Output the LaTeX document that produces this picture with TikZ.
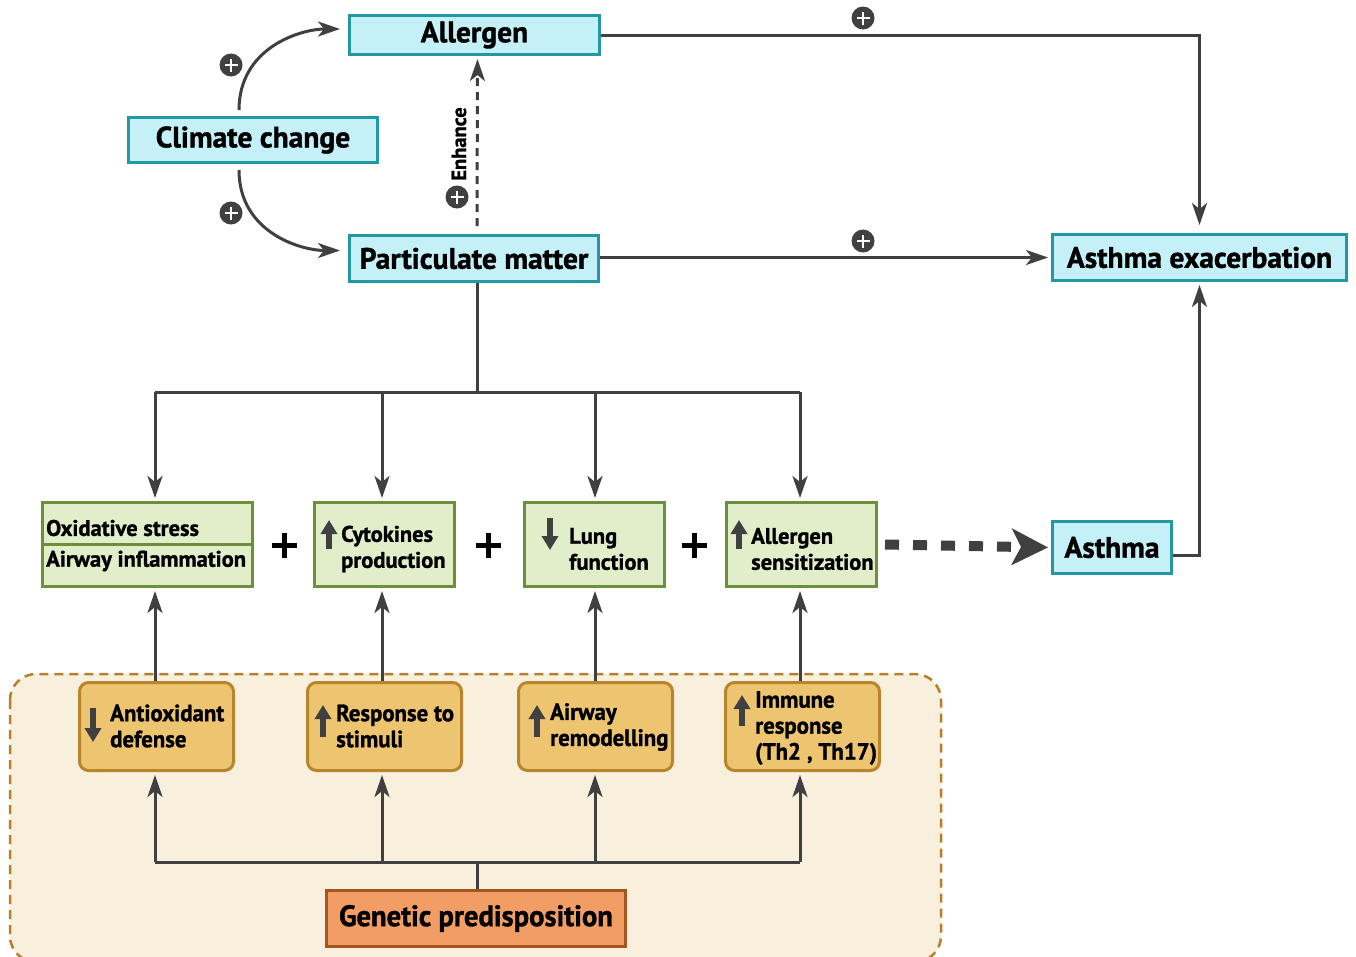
\documentclass[tikz,border=0pt]{standalone}
\usepackage{fontspec}
\setmainfont{PT Sans}[BoldFeatures={FakeBold=1.2}]
\newfontfamily\condfont{PT Sans}[FakeStretch=0.97,BoldFeatures={FakeBold=1.2}]
\usetikzlibrary{arrows.meta,calc}
\definecolor{ln}{HTML}{404040}
\definecolor{cyanf}{HTML}{C4F0F7}
\definecolor{cyand}{HTML}{2397A3}
\definecolor{greenf}{HTML}{E2EEC9}
\definecolor{greend}{HTML}{6B8F3B}
\definecolor{oranf}{HTML}{EDC470}
\definecolor{orand}{HTML}{B8852C}
\definecolor{bgf}{HTML}{F8F0DC}
\definecolor{bgd}{HTML}{B67F2A}
\definecolor{genf}{HTML}{F29D63}
\definecolor{gend}{HTML}{A5561F}
\tikzset{
  cbox/.style={draw=cyand, fill=cyanf, line width=3pt, inner sep=0pt, font=\bfseries\fontsize{29.5}{32}\selectfont},
  gbox/.style={draw=greend, fill=greenf, line width=3pt, inner sep=0pt, minimum height=84pt},
  obox/.style={draw=orand, fill=oranf, line width=3pt, inner sep=0pt, minimum height=88pt, minimum width=154pt, rounded corners=9pt},
  gtxt/.style={anchor=west, align=left, inner sep=0pt, font=\bfseries\fontsize{22.5}{26}\selectfont},
  otxt/.style={anchor=west, align=left, inner sep=0pt, font=\condfont\bfseries\fontsize{23.5}{26}\selectfont},
  line/.style={draw=ln, line width=3pt},
  arr/.style={draw=ln, line width=3pt, -{Stealth[length=22pt,width=15pt,inset=6pt]}, shorten >=3pt},
  icon/.style={draw=ln, line width=5.5pt, -{Triangle[length=14pt,width=16pt]}},
  pc/.style={circle, fill=ln, minimum size=23pt, inner sep=0pt,
    path picture={\draw[white,line width=2.6pt]
      ([xshift=-6.5pt]path picture bounding box.center) -- ([xshift=6.5pt]path picture bounding box.center)
      ([yshift=-6.5pt]path picture bounding box.center) -- ([yshift=6.5pt]path picture bounding box.center);}},
  bigplus/.style={minimum size=28pt, inner sep=0pt,
    path picture={\draw[black,line width=5pt]
      ([xshift=-12.5pt]path picture bounding box.center) -- ([xshift=12.5pt]path picture bounding box.center)
      ([yshift=-12.5pt]path picture bounding box.center) -- ([yshift=12.5pt]path picture bounding box.center);}},
}
\begin{document}
\begin{tikzpicture}[x=1pt,y=-1pt]
\useasboundingbox (0,0) rectangle (1356,956);
% background region
\draw[bgd, fill=bgf, line width=2.5pt, dash pattern=on 9pt off 6pt, rounded corners=26pt] (10,674) rectangle (941,962);

% top nodes
\node[cbox, minimum width=250pt, minimum height=39pt] (al) at (474.5,35) {Allergen};
\node[cbox, minimum width=249pt, minimum height=45pt] (cc) at (253,140) {Climate change};
\node[cbox, minimum width=249pt, minimum height=46pt] (pm) at (474,258.5) {Particulate matter};
\node[cbox, minimum width=294pt, minimum height=46pt] (ae) at (1199.5,257.5) {Asthma exacerbation};
\node[cbox, minimum width=119pt, minimum height=52pt] (as) at (1112,547.5) {Asthma};

% green boxes
\node[gbox, minimum width=210pt] (g1) at (147.5,544.5) {};
\node[gbox, minimum width=140pt] (g2) at (384.5,544.5) {};
\node[gbox, minimum width=140pt] (g3) at (594.5,544.5) {};
\node[gbox, minimum width=150pt] (g4) at (801.5,544.5) {};
\coordinate (div) at (0,544);
\draw[greend, line width=3pt] (g1.west |- div) -- (g1.east |- div);
\node[gtxt] (g1a) at (46,528) {Oxidative stress};
\node[gtxt] (g1b) at (46,561) {Airway inflammation};
\node[gtxt] (g2t) at (341,549) {Cytokines\\production};
\node[gtxt] (g3t) at (569,549) {Lung\\function};
\node[gtxt] (g4t) at (751,549) {Allergen\\sensitization};
\draw[icon] (329,549) -- (329,520);
\draw[icon] (550,518) -- (550,550);
\draw[icon] (739,549) -- (739,520);

% plus signs between green boxes
\node[bigplus] (p1) at (284,545) {};
\node[bigplus] (p2) at (488,545) {};
\node[bigplus] (p3) at (694,545) {};

% orange boxes
\node[obox] (o1) at (156.5,726.5) {};
\node[obox] (o2) at (384.5,726.5) {};
\node[obox] (o3) at (595.5,726.5) {};
\node[obox] (o4) at (802.5,726.5) {};
\node[otxt] (o1t) at (110,726) {Antioxidant\\defense};
\node[otxt] (o2t) at (336,726) {Response to\\stimuli};
\node[otxt] (o3t) at (550,727) {Airway\\remodelling};
\node[otxt] (o4t) at (755,728) {Immune\\response\\(Th2\hspace{6pt}, Th17)};
\draw[icon] (93,708) -- (93,742);
\draw[icon] (323,737) -- (323,705);
\draw[icon] (537,737) -- (537,705);
\draw[icon] (742,726) -- (742,695);

% genetic
\node[draw=gend, fill=genf, line width=3pt, minimum width=299pt, minimum height=56pt, inner sep=0pt,
  font=\condfont\bfseries\fontsize{29.5}{32}\selectfont] (gp) at (476,918.5) {Genetic predisposition};

% x positions of the vertical connectors
\coordinate (x1) at (155,0);
\coordinate (x2) at (382,0);
\coordinate (x3) at (595,0);
\coordinate (x4) at (800,0);
\coordinate (bus) at (477,392);
\coordinate (gbus) at (477,862);

% PM bus to green boxes
\draw[line] (pm.south -| bus) -- (bus);
\draw[line] (x1 |- bus) -- (x4 |- bus);
\draw[arr] (x1 |- bus) -- (x1 |- g1.north);
\draw[arr] (x2 |- bus) -- (x2 |- g2.north);
\draw[arr] (x3 |- bus) -- (x3 |- g3.north);
\draw[arr] (x4 |- bus) -- (x4 |- g4.north);

% orange to green
\draw[arr] (x1 |- o1.north) -- (x1 |- g1.south);
\draw[arr] (x2 |- o2.north) -- (x2 |- g2.south);
\draw[arr] (x3 |- o3.north) -- (x3 |- g3.south);
\draw[arr] (x4 |- o4.north) -- (x4 |- g4.south);

% genetic bus
\draw[line] (gp.north -| gbus) -- (gbus);
\draw[line] (x1 |- gbus) -- (x4 |- gbus);
\draw[arr] (x1 |- gbus) -- (x1 |- o1.south);
\draw[arr] (x2 |- gbus) -- (x2 |- o2.south);
\draw[arr] (x3 |- gbus) -- (x3 |- o3.south);
\draw[arr] (x4 |- gbus) -- (x4 |- o4.south);

% top connectors
\draw[arr, shorten >=8pt] (al.east) -| (ae.north);
\node[pc] (pa) at (863,18) {};
\draw[arr] (pm.east |- ae.west) -- (ae.west);
\node[pc] (pb) at (863,241) {};
\draw[arr] ([yshift=-7.5pt]as.east) -| (ae.south);

% dashed enhance
\draw[arr, dash pattern=on 8pt off 6pt, shorten <=8pt] ([xshift=3pt]pm.north) -- ([xshift=3pt]al.south);
\node[rotate=90, inner sep=0pt, font=\bfseries\fontsize{20.5}{22}\selectfont] (en) at (459,144) {Enhance};
\node[pc] (pe) at (457,197) {};

% climate curves
\draw[arr, shorten >=8pt] ([xshift=-14pt,yshift=6pt]cc.north) .. controls +(0,-62) and +(-48,0) .. ([yshift=6pt]al.west);
\node[pc] (pc1) at (231,65) {};
\draw[arr, shorten >=8pt] ([xshift=-14pt,yshift=-6pt]cc.south) .. controls +(0,62) and +(-48,0) .. ([yshift=8pt]pm.west);
\node[pc] (pc2) at (231,213) {};

% bold dashed arrow to asthma
\draw[draw=ln, line width=10pt, dash pattern=on 14pt off 14pt, -{Stealth[length=36pt,width=36pt,inset=9pt]}, shorten >=3pt] ([xshift=7pt]g4.east) -- (as.west);
\end{tikzpicture}
\end{document}
